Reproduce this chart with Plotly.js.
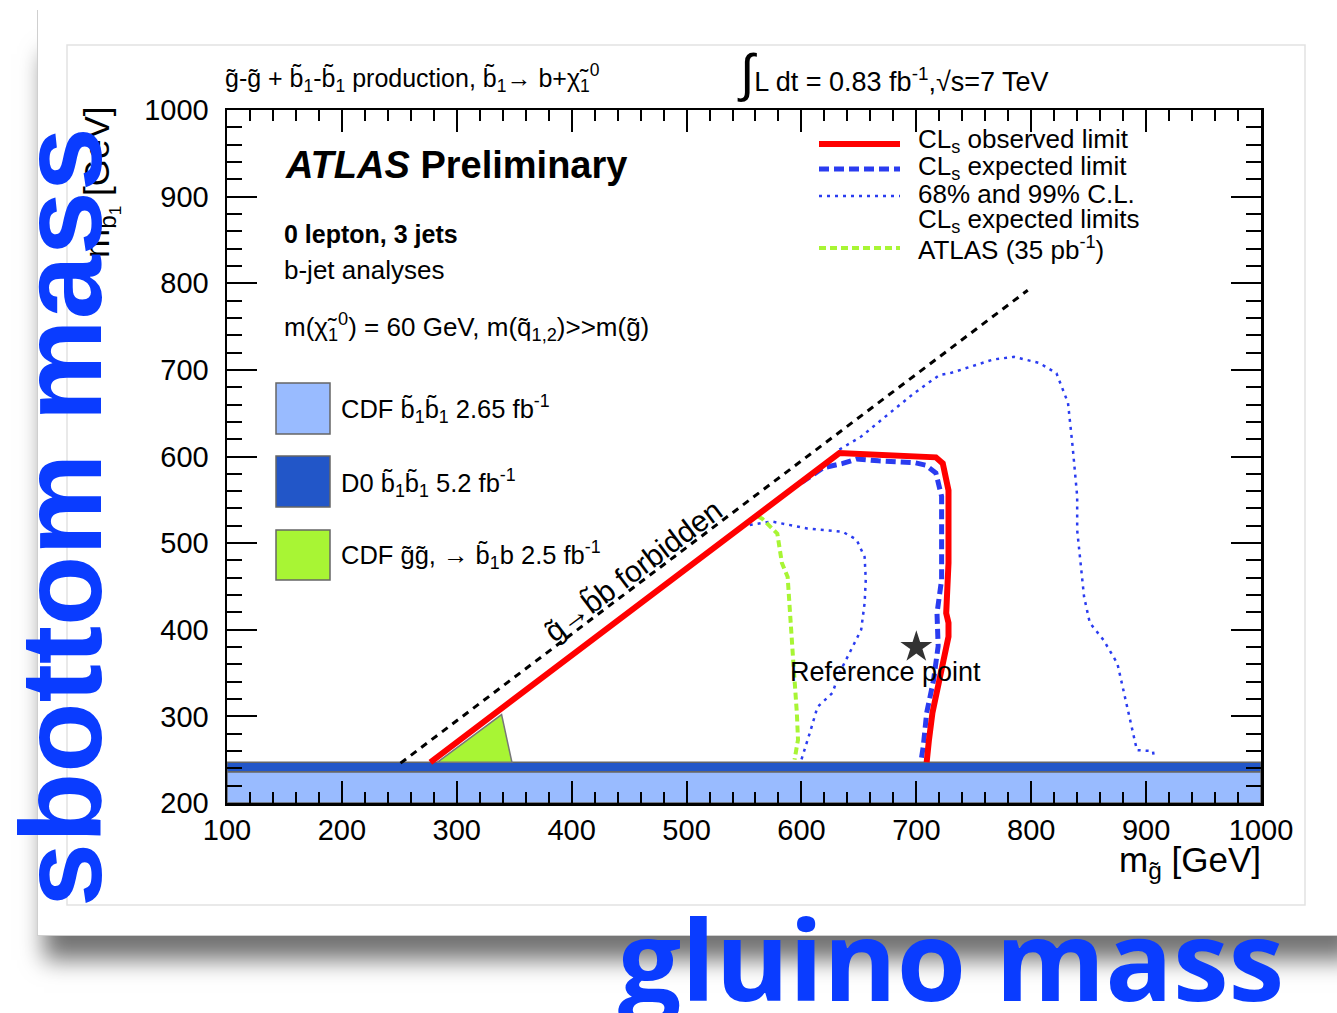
<!DOCTYPE html>
<html>
<head>
<meta charset="utf-8">
<script src="https://cdn.plot.ly/plotly-3.0.1.min.js"></script>
<style>
  html, body { margin:0; padding:0; background:#ffffff; width:1337px; height:1013px; overflow:hidden; }
  #card { position:absolute; left:37px; top:10px; width:1330px; height:925px; background:#ffffff;
          border-left:1px solid #cfcfcf; border-bottom:1px solid #cfcfcf;
          box-shadow: -3px 34px 22px -10px rgba(0,0,0,0.55); }
  #plot { position:absolute; left:0; top:0; width:1337px; height:1013px; }
</style>
</head>
<body>
<div id="card"></div>
<div id="plot"></div>
<script>
// ---------------- data ----------------
// gluino mass (x) / sbottom mass (y), GeV
const kinX = [251, 797];
const kinY = [246, 792];

const obsX = [277, 633, 651, 717, 723, 728, 728, 728, 726, 728, 728, 723, 717, 714, 711, 709];
const obsY = [247, 604, 603, 599, 592, 561, 535, 477, 419, 408, 392, 361, 323, 304, 273, 247];

const expX = [600, 619, 636, 648, 667, 698, 708, 717, 722, 722, 722, 718, 719, 715, 709, 706, 704];
const expY = [570, 587, 592, 597, 595, 593, 590, 581, 554, 515, 458, 419, 381, 342, 304, 265, 248];

const band68X = [555, 574, 605, 636, 648, 655, 656, 655, 652, 642, 633, 627, 614, 608, 600];
const band68Y = [521, 525, 517, 513, 504, 484, 458, 431, 400, 373, 350, 327, 311, 284, 250];

const band99X = [633, 652, 673, 698, 720, 729, 748, 767, 785, 807, 822, 832, 836, 840, 840, 843, 846, 851, 863, 875, 885, 892, 906, 907];
const band99Y = [608, 623, 646, 673, 694, 696, 704, 712, 715, 708, 696, 662, 612, 554, 515, 477, 438, 408, 388, 361, 304, 261, 260, 250];

const atlas35X = [562, 566, 579, 583, 588, 589, 591, 593, 596, 597, 594];
const atlas35Y = [531, 528, 511, 477, 461, 438, 400, 361, 304, 273, 250];

const cdfSbX = [100, 1000, 1000, 100, 100];
const cdfSbY = [200, 200, 236, 236, 200];

const d0SbX = [100, 1000, 1000, 100, 100];
const d0SbY = [236, 236, 247, 247, 236];

const cdfGlX = [283, 339, 348, 283];
const cdfGlY = [247, 302, 247, 247];

const refX = [700];
const refY = [380];

const xTickVals = [100, 200, 300, 400, 500, 600, 700, 800, 900, 1000];
const yTickVals = [200, 300, 400, 500, 600, 700, 800, 900, 1000];

// ---------------- helpers for placing decorations in paper units ----------------
const L = 227, R = 1261, T = 110, B = 803;
const px = x => (x - L) / (R - L);
const py = y => (B - y) / (B - T);

const FONT = 'Liberation Sans, Arial, Helvetica, sans-serif';
const BLUE_D = '#2a3cf0';

const traces = [
  {x: cdfSbX, y: cdfSbY, mode: 'lines', fill: 'toself', fillcolor: '#99bbff', line: {color: '#666', width: 1.5}},
  {x: d0SbX, y: d0SbY, mode: 'lines', fill: 'toself', fillcolor: '#2256c8', line: {color: '#666', width: 1.5}},
  {x: cdfGlX, y: cdfGlY, mode: 'lines', fill: 'toself', fillcolor: '#a8f534', line: {color: '#777', width: 1.5}},
  {x: kinX, y: kinY, mode: 'lines', line: {color: '#000', width: 3, dash: '7px,6px'}},
  {x: band99X, y: band99Y, mode: 'lines', line: {color: BLUE_D, width: 2.5, dash: '3px,5px'}},
  {x: band68X, y: band68Y, mode: 'lines', line: {color: BLUE_D, width: 2.5, dash: '3px,5px'}},
  {x: atlas35X, y: atlas35Y, mode: 'lines', line: {color: '#a8f534', width: 4, dash: '7px,4px'}},
  {x: expX, y: expY, mode: 'lines', line: {color: BLUE_D, width: 5, dash: '10px,5px'}},
  {x: obsX, y: obsY, mode: 'lines', line: {color: '#ff0000', width: 6}},
  {x: refX, y: refY, mode: 'markers', marker: {symbol: 'star', size: 24, color: '#333'}}
];
traces.forEach(t => { t.showlegend = false; t.hoverinfo = 'skip'; });

function ann(x, y, text, size, opts) {
  return Object.assign({xref: 'paper', yref: 'paper', x: px(x), y: py(y), text: text, showarrow: false,
    xanchor: 'left', yanchor: 'middle', font: {family: FONT, size: size, color: '#000'}}, opts || {});
}

const annotations = [
  ann(223, 78, 'g̃-g̃ + b̃<sub>1</sub>-b̃<sub>1</sub> production, b̃<sub>1</sub>→ b+χ̃<sub>1</sub><sup>0</sup>', 25),
  ann(735, 73, '<span style="font-size:52px">∫</span>L dt = 0.83 fb<sup>-1</sup>,√s=7 TeV', 27),
  ann(283, 165, '<b><i>ATLAS</i> Preliminary</b>', 38),
  ann(282, 234, '<b>0 lepton, 3 jets</b>', 25),
  ann(282, 270, 'b-jet analyses', 26),
  ann(282, 327, 'm(χ̃<sub>1</sub><sup>0</sup>) = 60 GeV, m(q̃<sub>1,2</sub>)&gt;&gt;m(g̃)', 26),
  ann(339, 409, 'CDF b̃<sub>1</sub>b̃<sub>1</sub> 2.65 fb<sup>-1</sup>', 25.5),
  ann(339, 483, 'D0 b̃<sub>1</sub>b̃<sub>1</sub> 5.2 fb<sup>-1</sup>', 25.5),
  ann(339, 555, 'CDF g̃g̃, → b̃<sub>1</sub>b 2.5 fb<sup>-1</sup>', 25.5),
  ann(916, 140, 'CL<sub>s</sub> observed limit', 26),
  ann(916, 167, 'CL<sub>s</sub> expected limit', 26),
  ann(916, 194, '68% and 99% C.L.', 26),
  ann(916, 220, 'CL<sub>s</sub> expected limits', 26),
  ann(916, 248, 'ATLAS (35 pb<sup>-1</sup>)', 26),
  ann(885, 672, 'Reference point', 27, {xanchor: 'center'}),
  ann(633, 570, 'g̃→b̃b forbidden', 30, {xanchor: 'center', textangle: -37}),
  ann(1263, 862, 'm<sub>g̃</sub> [GeV]', 35, {xanchor: 'right'}),
  ann(101, 104, 'm<sub>b̃<sub>1</sub></sub> [GeV]', 35, {xanchor: 'center', yanchor: 'top', textangle: -90}),
  // overlay labels
  ann(61, 517, '<b>sbottom mass</b>', 115, {xanchor: 'center', textangle: -90,
      font: {family: 'Liberation Sans, Arial, sans-serif', size: 115, color: '#0a3cff'}}),
  ann(616, 957, '<b>gluino mass</b>', 112, {
      font: {family: 'Open Sans, Noto Sans, sans-serif', size: 112, color: '#0a3cff'}})
];

function rect(x0, y0, x1, y1, fill, line, lw, layer) {
  return {type: 'rect', xref: 'paper', yref: 'paper', x0: px(x0), x1: px(x1), y0: py(y0), y1: py(y1),
    fillcolor: fill, line: {color: line, width: lw}, layer: layer || 'above'};
}
function hline(x0, x1, y, color, width, dash) {
  return {type: 'line', xref: 'paper', yref: 'paper', x0: px(x0), x1: px(x1), y0: py(y), y1: py(y),
    line: {color: color, width: width, dash: dash || 'solid'}};
}

const shapes = [
  rect(67, 45, 1305, 905, 'rgba(0,0,0,0)', '#e2e2e2', 1.5, 'below'),
  rect(276, 383, 330, 434, '#99bbff', '#666', 1.5),
  rect(276, 456, 330, 507, '#2256c8', '#666', 1.5),
  rect(276, 530, 330, 580, '#a8f534', '#666', 1.5),
  hline(819, 900, 144, '#ff0000', 6),
  hline(819, 900, 169, BLUE_D, 5, '10px,5px'),
  hline(819, 900, 196, BLUE_D, 2.5, '3px,5px'),
  hline(819, 900, 248, '#a8f534', 4, '7px,4px')
];

const axisCommon = {
  showgrid: false, zeroline: false, showline: true, linecolor: '#000', linewidth: 2.5,
  mirror: 'allticks', ticks: 'inside', tickcolor: '#000', tickwidth: 2,
  tickfont: {family: FONT, size: 29, color: '#000'}
};

const layout = {
  width: 1337, height: 1013,
  margin: {l: L, r: 1337 - R, t: T, b: 1013 - B, pad: 0},
  paper_bgcolor: 'rgba(0,0,0,0)', plot_bgcolor: '#ffffff',
  xaxis: Object.assign({}, axisCommon, {
    range: [100, 1000], tickmode: 'array', tickvals: xTickVals, ticktext: xTickVals.map(String),
    ticklen: 22, ticklabelstandoff: 0,
    minor: {dtick: 20, tick0: 100, ticks: 'inside', ticklen: 11, tickwidth: 2, tickcolor: '#000', showgrid: false}
  }),
  yaxis: Object.assign({}, axisCommon, {
    range: [200, 1000], tickmode: 'array', tickvals: yTickVals, ticktext: yTickVals.map(String),
    ticklen: 30, ticklabelstandoff: 10,
    minor: {dtick: 20, tick0: 200, ticks: 'inside', ticklen: 15, tickwidth: 2, tickcolor: '#000', showgrid: false}
  }),
  annotations: annotations,
  shapes: shapes,
  showlegend: false
};

Plotly.newPlot('plot', traces, layout, {staticPlot: true, displayModeBar: false});
</script>
</body>
</html>
